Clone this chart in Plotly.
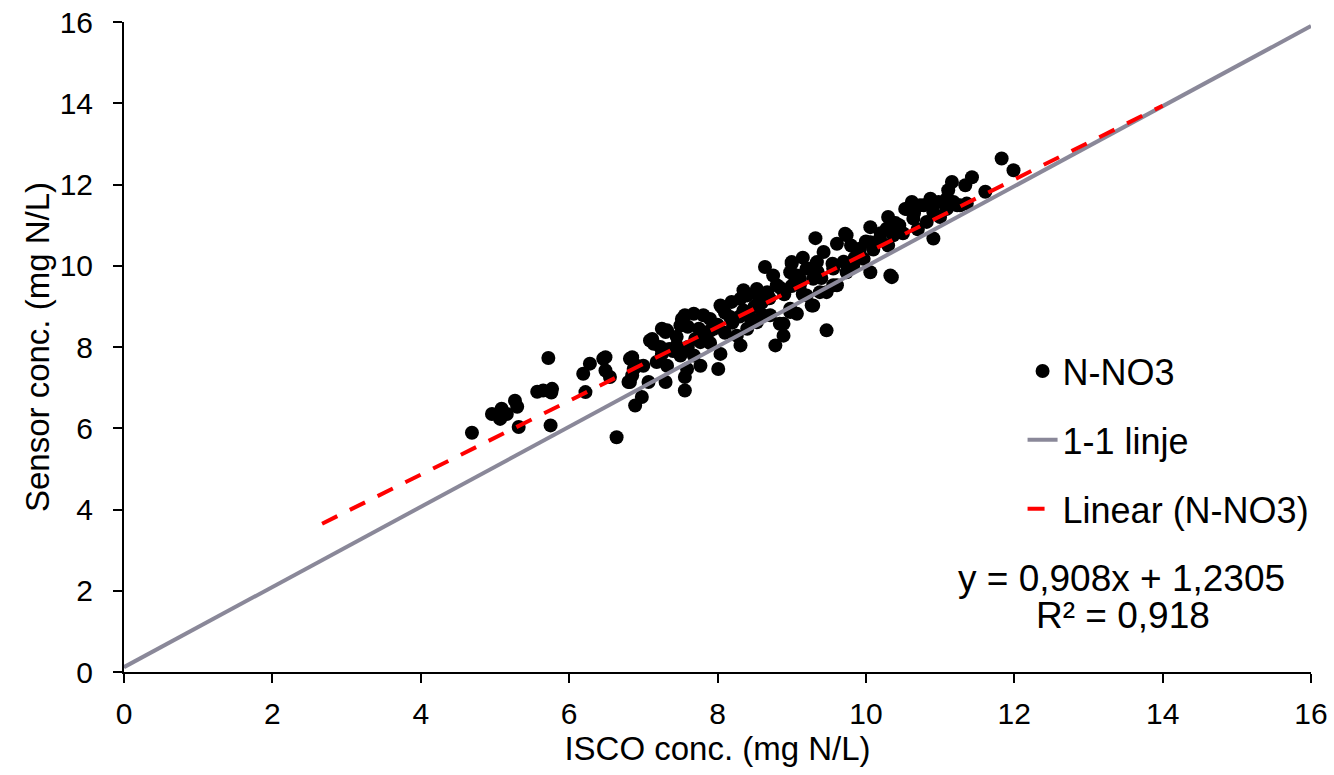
import plotly.graph_objects as go

# ISCO (x) vs sensor (y) concentrations, mg N/L
isco = [
    4.69, 4.96, 5.09, 5.07, 5.16, 5.27, 5.30, 5.32, 5.57, 5.65, 5.77, 5.76, 5.72, 5.75,
    6.19, 6.28, 6.22, 6.46, 6.49, 6.55, 6.64, 6.82, 6.85, 6.82, 6.91, 7.00, 7.07, 6.98,
    6.89, 7.09, 7.14, 7.30, 7.25, 7.32, 7.30, 7.45,
    8.64, 9.00, 8.75, 8.80, 8.67, 8.53, 8.40, 8.31, 8.19, 8.04, 8.17, 7.90, 7.81, 7.68,
    7.56, 7.52, 7.50, 7.32, 7.25, 7.12, 7.23, 7.50, 7.77, 7.81, 7.95, 8.04, 7.77, 8.01,
    7.59, 7.56, 7.56, 6.85, 6.87, 6.49, 6.80, 8.31, 8.26, 8.40, 8.53, 8.71, 8.84, 8.89,
    8.78, 9.07, 8.98, 9.27, 9.47, 9.20, 9.11, 9.07, 9.29, 9.38, 9.56, 9.56, 7.18, 7.68,
    9.32, 9.61, 9.74, 10.06, 10.30, 10.28, 10.55, 10.73, 10.91, 11.27, 10.91, 10.64, 10.82,
    10.37, 10.19, 10.06, 9.92, 9.97, 10.06, 10.35, 9.83, 9.74, 9.43, 9.34, 9.20, 9.11,
    9.00, 9.61, 9.47, 9.29, 8.98, 8.89, 11.09,
    11.83, 11.99, 11.43, 11.34, 11.16, 11.11, 11.09, 11.23, 11.36, 11.61, 10.98, 10.87,
    10.78, 10.91,
    8.98, 9.25, 8.06, 11.18, 10.62, 10.53, 9.72, 10.33,
    8.10, 8.35, 8.60, 8.50, 8.70, 8.90, 9.00, 8.20, 8.60, 9.15, 9.40, 9.70, 9.90, 10.10,
    10.30, 10.50, 10.70, 7.90, 7.70, 7.60, 7.40, 7.90, 8.45, 9.80, 10.20, 10.45, 7.35,
    7.60, 8.10,
    8.55, 8.85, 9.05, 9.35, 9.55, 9.85, 10.00, 8.30, 8.00, 7.75, 7.45, 10.65, 10.40,
    11.00, 9.15, 8.35,
]
sensor = [
    5.89, 6.35, 6.48, 6.23, 6.35, 6.68, 6.53, 6.03, 6.90, 6.93, 6.97, 6.88, 7.73, 6.07,
    7.34, 7.59, 6.89, 7.71, 7.42, 7.26, 5.78, 7.71, 7.30, 7.14, 7.54, 7.54, 7.14, 6.77,
    6.56, 8.16, 8.08, 8.37, 7.83, 7.54, 7.14, 8.04,
    9.97, 10.05, 9.76, 9.52, 9.35, 9.43, 9.27, 9.19, 9.11, 9.02, 8.74, 8.69, 8.78, 8.82,
    8.78, 8.69, 8.53, 8.41, 8.45, 8.20, 8.00, 7.79, 8.12, 8.28, 8.45, 7.83, 7.54, 7.46,
    7.46, 7.26, 6.93, 7.75, 7.46, 7.75, 7.14, 8.04, 8.28, 8.45, 8.61, 8.78, 8.57, 8.28,
    8.04, 8.82, 8.94, 9.02, 8.41, 9.27, 9.52, 9.76, 9.68, 9.35, 9.52, 9.93, 7.63, 7.79,
    10.68, 10.54, 10.75, 10.95, 11.20, 10.91, 11.40, 11.49, 11.57, 11.49, 10.67, 11.16, 11.08,
    10.75, 10.67, 10.58, 10.42, 10.17, 9.84, 9.72, 10.00, 9.84, 10.34, 10.09, 9.93, 9.68,
    10.09, 9.52, 9.35, 9.02, 8.86, 8.57, 11.40,
    12.64, 12.35, 12.18, 11.98, 12.06, 11.86, 11.65, 11.49, 11.53, 11.82, 11.57, 11.65,
    11.49, 11.32,
    9.84, 9.93, 8.98, 11.57, 11.57, 11.40, 10.79, 9.76,
    8.85, 8.90, 9.10, 9.00, 9.20, 9.30, 9.50, 8.60, 8.80, 9.30, 9.70, 10.10, 10.30, 10.40,
    10.50, 10.80, 10.90, 8.40, 8.20, 8.00, 7.90, 8.10, 8.70, 10.50, 10.80, 11.00, 7.95,
    8.50, 8.35,
    9.25, 9.45, 9.65, 9.85, 10.05, 10.20, 10.60, 8.75, 8.55, 8.45, 8.25, 11.30, 11.05,
    11.20, 10.20, 9.40,
]

# 1-1 line and fitted trend line end points
one_to_one_x = [0, 16]
one_to_one_y = [0.12, 15.9]
trend_x = [2.67, 14.0]
trend_y = [3.65, 13.94]

x_ticks = [0, 2, 4, 6, 8, 10, 12, 14, 16]
y_ticks = [0, 2, 4, 6, 8, 10, 12, 14, 16]

FONT = "Liberation Sans, Arial, sans-serif"

fig = go.Figure()
fig.add_trace(go.Scatter(
    x=isco, y=sensor, mode="markers", name="N-NO3",
    marker=dict(color="black", size=14, line=dict(width=0)), legendgroup="a", legendrank=1,
))
fig.add_trace(go.Scatter(
    x=one_to_one_x, y=one_to_one_y, mode="lines", name="1-1 linje",
    line=dict(color="#8a8899", width=4), legendgroup="b", legendrank=2,
))
fig.add_trace(go.Scatter(
    x=trend_x, y=trend_y, mode="lines", name="Linear (N-NO3)",
    line=dict(color="#ff0000", width=4, dash="17px,14px"), legendgroup="c", legendrank=3,
))

fig.add_annotation(x=13.45, y=2.29, xref="x", yref="y", text="y = 0,908x + 1,2305",
                   showarrow=False, font=dict(family=FONT, size=37, color="black"),
                   xanchor="center", yanchor="middle")
fig.add_annotation(x=13.47, y=1.38, xref="x", yref="y", text="R² = 0,918",
                   showarrow=False, font=dict(family=FONT, size=37, color="black"),
                   xanchor="center", yanchor="middle")

axis_common = dict(
    range=[0, 16], tickmode="array", showgrid=False, zeroline=False,
    showline=True, linecolor="black", linewidth=2, automargin=False,
    ticks="outside", ticklen=9, tickwidth=1.5, tickcolor="black",
    tickfont=dict(family=FONT, size=30, color="black"),
)

fig.update_layout(
    width=1334, height=775,
    margin=dict(l=124, r=23, t=22, b=103),
    paper_bgcolor="white", plot_bgcolor="white",
    font=dict(family=FONT, color="black"),
    xaxis=dict(**axis_common, tickvals=x_ticks, ticklabelstandoff=5,
               title=dict(text="ISCO conc. (mg N/L)", font=dict(family=FONT, size=33), standoff=8)),
    yaxis=dict(**axis_common, tickvals=y_ticks, ticklabelstandoff=14,
               title=dict(text="Sensor conc. (mg N/L)", font=dict(family=FONT, size=33), standoff=0)),
    showlegend=True,
    legend=dict(x=0.757, y=0.509, xanchor="left", yanchor="top",
                font=dict(family=FONT, size=36, color="black"),
                bgcolor="rgba(0,0,0,0)", tracegroupgap=19, traceorder="grouped"),
)

fig.write_html("out.html")
